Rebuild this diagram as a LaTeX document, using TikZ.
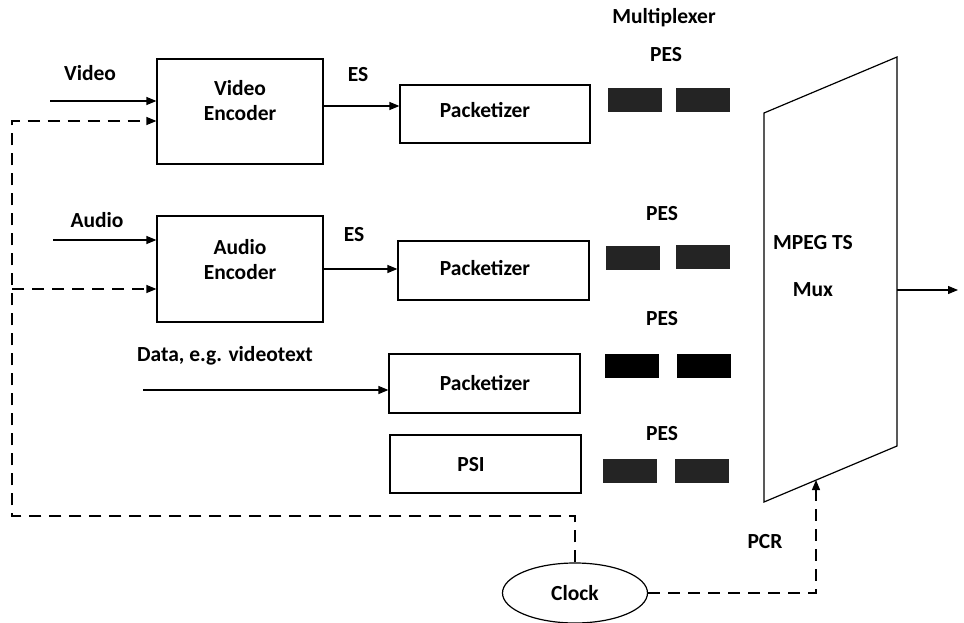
\documentclass[tikz,border=0pt]{standalone}
\usepackage{fontspec}
\setmainfont{Carlito}
\usetikzlibrary{arrows.meta,shapes.geometric}
\begin{document}
\begin{tikzpicture}[x=1pt,y=-1pt,
  font=\bfseries\fontsize{21.5}{25}\selectfont,
  block/.style={draw, line width=1.2pt, inner sep=0pt},
  lbl/.style={inner sep=0pt, align=center},
  pes/.style={fill=black!86, draw=black!86, line width=0.6pt, inner sep=0pt,
              minimum width=53pt, minimum height=23pt},
  arr/.style={line width=1.2pt, -{Triangle[length=10pt,width=8pt]}},
  dashline/.style={line width=1.2pt, dash pattern=on 12pt off 8pt}]
  \useasboundingbox (0,0) rectangle (964,623);

  % encoders, packetizers and PSI
  \node[block, minimum width=166pt, minimum height=105pt] (venc) at (240,111.5) {};
  \node[block, minimum width=166pt, minimum height=106pt] (aenc) at (240,269) {};
  \node[block, minimum width=190pt, minimum height=58pt] (pk1) at (495,114) {};
  \node[block, minimum width=191pt, minimum height=59pt] (pk2) at (493.5,270.5) {};
  \node[block, minimum width=191pt, minimum height=59pt] (pk3) at (484.5,383.5) {};
  \node[block, minimum width=191pt, minimum height=58pt] (psi) at (485.5,464) {};

  \node[lbl] (ventxt) at (240,101) {Video\\Encoder};
  \node[lbl] (aentxt) at (240,260) {Audio\\Encoder};
  \node[lbl] (pk1txt) at (485,110) {Packetizer};
  \node[lbl] (pk2txt) at (485,268) {Packetizer};
  \node[lbl] (pk3txt) at (485,383) {Packetizer};
  \node[lbl] (psitxt) at (471,465) {PSI};

  % input labels
  \node[lbl] (vlab) at (90,73) {Video};
  \node[lbl] (alab) at (97,220) {Audio};
  \node[lbl] (dlab) at (225,356) {Data, e.g. videotext};
  \node[lbl] (es1) at (358,75) {ES};
  \node[lbl] (es2) at (354,235) {ES};

  % PES packets
  \node[lbl] (muxlab) at (664,18) {Multiplexer};
  \node[lbl] (pes1) at (666,55) {PES};
  \node[lbl] (pes2) at (662,214) {PES};
  \node[lbl] (pes3) at (662,319) {PES};
  \node[lbl] (pes4) at (662,434) {PES};
  \node[pes] (p1a) at (634.5,99.5) {};
  \node[pes] (p1b) at (703,99.5) {};
  \node[pes] (p2a) at (632.5,257.5) {};
  \node[pes] (p2b) at (702.5,256.5) {};
  \node[pes, fill=black, draw=black] (p3a) at (632,365.5) {};
  \node[pes, fill=black, draw=black] (p3b) at (704,365.5) {};
  \node[pes] (p4a) at (630,471) {};
  \node[pes] (p4b) at (702,471) {};

  % MPEG TS multiplexer
  \draw[line width=1.2pt] (764,113) -- (897,57) -- (897,446) -- (764,502) -- cycle;
  \node[lbl] (mpeg) at (813,243) {MPEG TS};
  \node[lbl] (mux) at (813,290) {Mux};
  \coordinate (muxout) at (897,290);
  \coordinate (tsout) at (958,290);
  \coordinate (pcrin) at (816,480);
  \node[lbl] (pcr) at (765,542) {PCR};

  % clock
  \node[draw, ellipse, line width=1.2pt, minimum width=145pt, minimum height=60pt,
        inner sep=0pt] (clock) at (575,593) {Clock};

  % signal inputs
  \coordinate (vin) at (50,101);
  \coordinate (ain) at (53,240);
  \coordinate (din) at (143,390);
  \draw[arr] (vin) -- (vin -| venc.west);
  \draw[arr] (ain) -- (ain -| aenc.west);
  \draw[arr] (din) -- (din -| pk3.west);

  % elementary streams
  \draw[arr] (venc.east |- 0,106) -- (pk1.west |- 0,106);
  \draw[arr] (aenc.east |- 0,269) -- (pk2.west |- 0,269);

  % transport stream output
  \draw[arr] (muxout) -- (tsout);

  % clock distribution
  \coordinate (bus) at (12,516);
  \coordinate (vclk) at (12,121);
  \coordinate (aclk) at (12,289);
  \draw[dashline, -{Triangle[length=10pt,width=8pt]}]
    (clock.north) |- (bus) -- (vclk) -- (vclk -| venc.west);
  \draw[dashline, -{Triangle[length=10pt,width=8pt]}]
    (aclk) -- (aclk -| aenc.west);
  \draw[dashline, -{Triangle[length=10pt,width=8pt]}]
    (clock.east) -| (pcrin);
\end{tikzpicture}
\end{document}
